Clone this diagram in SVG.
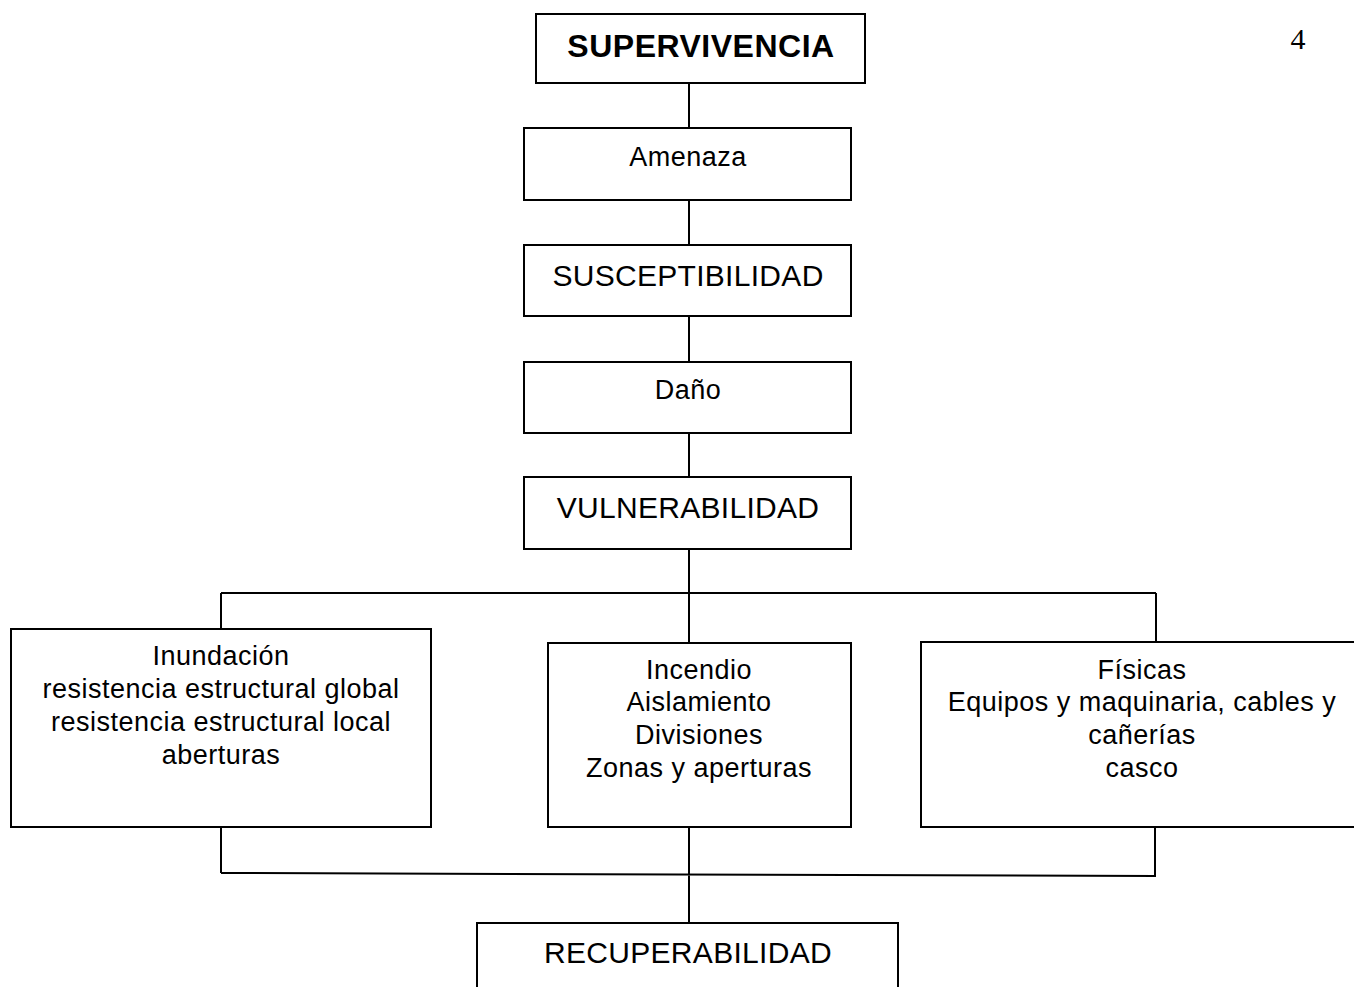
<svg xmlns="http://www.w3.org/2000/svg" width="1354" height="987" viewBox="0 0 1354 987">
<style>
.box{fill:#fff;stroke:#000;stroke-width:2}
.ln{fill:none;stroke:#000;stroke-width:2}
.t{font-family:"Liberation Sans",Arial,sans-serif;font-size:27px;fill:#000;text-anchor:middle;letter-spacing:0.5px}
.u{font-size:30px;letter-spacing:0.3px}
.b{font-weight:bold;font-size:32px}
</style>
<rect width="1354" height="987" fill="#fff"/>
<g id="connectors">
<path class="ln" d="M689 83V128M689 200V245M689 316V362M689 433V477M689 549V593"/>
<path class="ln" d="M221 593H1156M221 593V629M689 593V643M1156 593V642"/>
<path class="ln" d="M221 827V873M689 827V923M1155 827V876M221 873L1156 876"/>
</g>
<g id="n-supervivencia"><rect class="box" x="536" y="14" width="329" height="69"/><text class="t b" x="701" y="57">SUPERVIVENCIA</text></g>
<g id="n-amenaza"><rect class="box" x="524" y="128" width="327" height="72"/><text class="t" x="688" y="166">Amenaza</text></g>
<g id="n-susceptibilidad"><rect class="box" x="524" y="245" width="327" height="71"/><text class="t u" x="688" y="286">SUSCEPTIBILIDAD</text></g>
<g id="n-dano"><rect class="box" x="524" y="362" width="327" height="71"/><text class="t" x="688" y="399">Daño</text></g>
<g id="n-vulnerabilidad"><rect class="box" x="524" y="477" width="327" height="72"/><text class="t u" x="688" y="518">VULNERABILIDAD</text></g>
<g id="n-inundacion"><rect class="box" x="11" y="629" width="420" height="198"/>
<text class="t" x="221" y="665">Inundación</text>
<text class="t" x="221" y="698">resistencia estructural global</text>
<text class="t" x="221" y="731">resistencia estructural local</text>
<text class="t" x="221" y="764">aberturas</text></g>
<g id="n-incendio"><rect class="box" x="548" y="643" width="303" height="184"/>
<text class="t" x="699" y="679">Incendio</text>
<text class="t" x="699" y="711">Aislamiento</text>
<text class="t" x="699" y="744">Divisiones</text>
<text class="t" x="699" y="777">Zonas y aperturas</text></g>
<g id="n-fisicas"><rect class="box" x="921" y="642" width="442" height="185"/>
<text class="t" x="1142" y="679">Físicas</text>
<text class="t" x="1142" y="711">Equipos y maquinaria, cables y</text>
<text class="t" x="1142" y="744">cañerías</text>
<text class="t" x="1142" y="777">casco</text></g>
<g id="n-recuperabilidad"><rect class="box" x="477" y="923" width="421" height="80"/><text class="t u" x="688" y="963">RECUPERABILIDAD</text></g>
<text x="1298" y="49" font-family="'Liberation Serif','Times New Roman',serif" font-size="30" text-anchor="middle">4</text>
</svg>
